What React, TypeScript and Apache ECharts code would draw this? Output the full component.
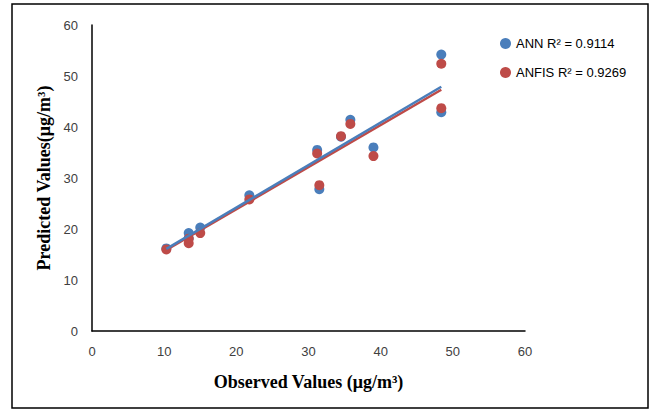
import React, { useEffect, useRef } from "react";
import * as echarts from "echarts";

const observed = [10.3, 13.4, 13.4, 15.0, 21.8, 31.2, 31.5, 34.5, 35.8, 39.0, 48.4, 48.4];
const annPred = [16.2, 19.2, 18.2, 20.3, 26.6, 35.5, 27.8, 38.1, 41.4, 36.0, 54.2, 42.9];
const anfisPred = [16.0, 17.2, 18.1, 19.2, 25.8, 34.8, 28.6, 38.2, 40.6, 34.3, 52.4, 43.7];
const annTrend = [[10.3, 16.1], [48.4, 47.9]];
const anfisTrend = [[10.3, 15.9], [48.4, 47.3]];
const xTicks = [0, 10, 20, 30, 40, 50, 60];
const yTicks = [0, 10, 20, 30, 40, 50, 60];
const annName = "ANN R\u00b2 = 0.9114";
const anfisName = "ANFIS R\u00b2 = 0.9269";

const BLUE = "#4a7ebb";
const RED = "#be4b48";

export default function App() {
  const ref = useRef<HTMLDivElement>(null);
  useEffect(() => {
    document.body.style.margin = "0";
    const chart = echarts.init(ref.current!, null, { renderer: "svg" });
    chart.setOption({
      animation: false,
      backgroundColor: "#ffffff",
      grid: { left: 92, top: 25, right: 128, bottom: 79 },
      xAxis: {
        type: "value",
        min: xTicks[0],
        max: xTicks[xTicks.length - 1],
        interval: 10,
        splitLine: { show: false },
        axisTick: { show: false },
        axisLine: { lineStyle: { color: "#000", width: 1.5 } },
        axisLabel: { color: "#404040", fontSize: 13, fontFamily: "Liberation Sans", margin: 14 },
        name: "Observed Values (\u03bcg/m\u00b3)",
        nameLocation: "middle",
        nameGap: 42,
        nameTextStyle: { color: "#000", fontSize: 18, fontWeight: "bold", fontFamily: "Liberation Serif" },
      },
      yAxis: {
        type: "value",
        min: yTicks[0],
        max: yTicks[yTicks.length - 1],
        interval: 10,
        splitLine: { show: false },
        axisTick: { show: false },
        axisLine: { lineStyle: { color: "#000", width: 1.5 } },
        axisLabel: { color: "#404040", fontSize: 13, fontFamily: "Liberation Sans", margin: 14 },
        name: "Predicted Values(\u03bcg/m\u00b3)",
        nameLocation: "middle",
        nameGap: 38,
        nameRotate: 90,
        nameTextStyle: { color: "#000", fontSize: 18, fontWeight: "bold", fontFamily: "Liberation Serif" },
      },
      legend: {
        data: [annName, anfisName],
        orient: "vertical",
        left: 495,
        top: 32,
        itemGap: 16,
        itemWidth: 11,
        itemHeight: 11,
        icon: "circle",
        textStyle: { color: "#000", fontSize: 13, fontFamily: "Liberation Sans" },
      },
      graphic: [
        {
          type: "rect",
          shape: { x: 12, y: 4, width: 636, height: 404 },
          style: { fill: "none", stroke: "#000", lineWidth: 1.5 },
          silent: true,
        },
      ],
      series: [
        {
          name: annName,
          type: "scatter",
          symbolSize: 10,
          itemStyle: { color: BLUE, opacity: 1 },
          data: observed.map((x, i) => [x, annPred[i]]),
          z: 2,
        },
        {
          name: anfisName,
          type: "scatter",
          symbolSize: 10,
          itemStyle: { color: RED, opacity: 1 },
          data: observed.map((x, i) => [x, anfisPred[i]]),
          z: 3,
        },
        {
          name: "anfisTrend",
          type: "line",
          symbol: "none",
          data: anfisTrend,
          lineStyle: { color: RED, width: 2.5 },
          z: 4,
        },
        {
          name: "annTrend",
          type: "line",
          symbol: "none",
          data: annTrend,
          lineStyle: { color: BLUE, width: 2.5 },
          z: 5,
        },
      ],
    });
    return () => chart.dispose();
  }, []);
  return <div ref={ref} style={{ width: 653, height: 410 }} />;
}
